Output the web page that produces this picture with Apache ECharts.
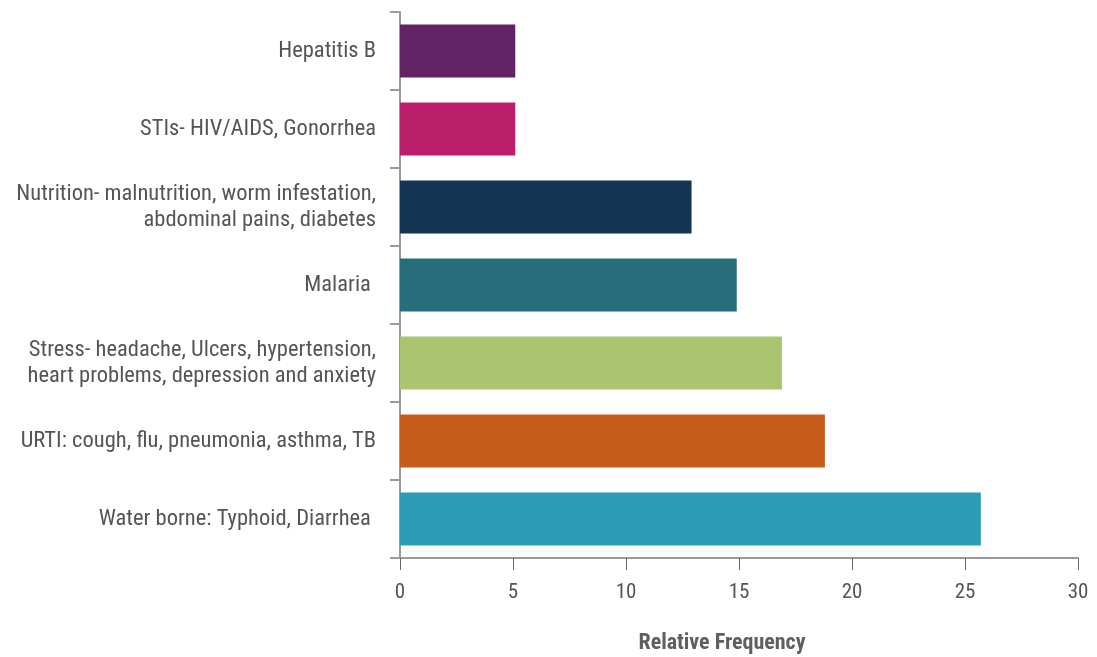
<!DOCTYPE html>
<html>
<head>
<meta charset="utf-8">
<script src="https://cdn.jsdelivr.net/npm/echarts@6/dist/echarts.min.js"></script>
<style>
  html, body { margin: 0; padding: 0; background: #ffffff; }
  #chart { width: 1097px; height: 657px; }
</style>
</head>
<body>
<div id="chart"></div>
<script>
// Disease categories, listed bottom-to-top as drawn on the category axis
const categories = [
  'Water borne: Typhoid, Diarrhea ',
  'URTI: cough, flu, pneumonia, asthma, TB',
  'Stress- headache, Ulcers, hypertension,\nheart problems, depression and anxiety',
  'Malaria ',
  'Nutrition- malnutrition, worm infestation,\nabdominal pains, diabetes',
  'STIs- HIV/AIDS, Gonorrhea',
  'Hepatitis B'
];
const frequencies = [25.7, 18.8, 16.9, 14.9, 12.9, 5.1, 5.1];
const barColors = ['#2b9bb6', '#c75b1b', '#abc46f', '#276d7c', '#153352', '#bb1e6a', '#612363'];
const xTicks = { min: 0, max: 30, interval: 5 };
const xAxisTitle = 'Relative Frequency';

const fontFamily = '"Roboto Condensed", "Liberation Sans Narrow", "Roboto", sans-serif';
const chart = echarts.init(document.getElementById('chart'));

chart.setOption({
  animation: false,
  grid: { left: 400, right: 19, top: 12, bottom: 99, containLabel: false, outerBoundsMode: 'none' },
  xAxis: {
    type: 'value',
    min: xTicks.min,
    max: xTicks.max,
    interval: xTicks.interval,
    name: xAxisTitle,
    nameLocation: 'middle',
    nameGap: 74,
    nameTextStyle: { fontFamily, fontSize: 22, fontWeight: 'bold', color: '#606060', padding: [0, 34, 0, 0] },
    axisLine: { show: true, lineStyle: { color: '#9a9a9a', width: 2 } },
    axisTick: { show: true, length: 12, lineStyle: { color: '#666', width: 1 } },
    axisLabel: { fontFamily, fontSize: 21, color: '#555', margin: 24 },
    splitLine: { show: false }
  },
  yAxis: {
    type: 'category',
    data: categories,
    axisLine: { show: true, lineStyle: { color: '#9a9a9a', width: 2 } },
    axisTick: { show: true, length: 10, lineStyle: { color: '#9a9a9a', width: 2 } },
    axisLabel: { fontFamily, fontSize: 22.5, color: '#555', margin: 24, align: 'right', lineHeight: 26 }
  },
  series: [{
    type: 'bar',
    data: frequencies.map((v, i) => ({ value: v, itemStyle: { color: barColors[i] } })),
    barCategoryGap: '32%'
  }]
});
</script>
</body>
</html>
